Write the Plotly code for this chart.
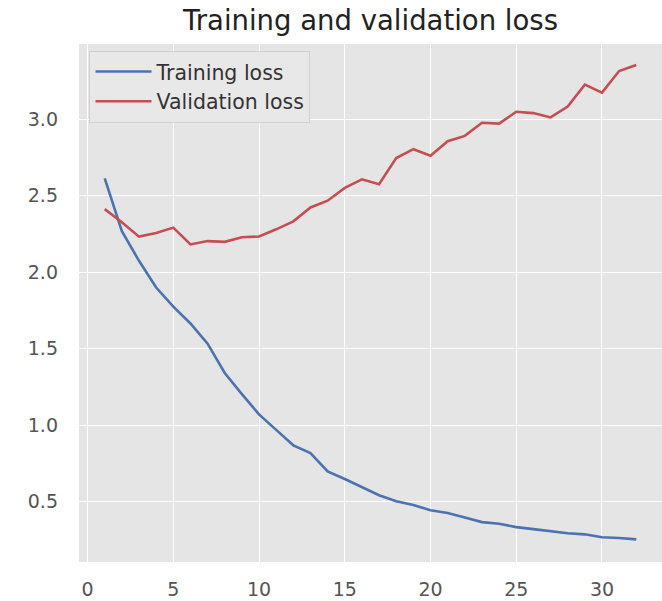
import plotly.graph_objects as go

epochs = list(range(1, 33))
training_loss = [2.614, 2.269, 2.075, 1.90, 1.775, 1.665, 1.533, 1.341, 1.203, 1.07,
                 0.969, 0.868, 0.817, 0.698, 0.648, 0.597, 0.542, 0.502, 0.478, 0.443,
                 0.425, 0.396, 0.366, 0.355, 0.333, 0.320, 0.306, 0.293, 0.286, 0.267,
                 0.262, 0.253]
validation_loss = [2.413, 2.327, 2.233, 2.257, 2.292, 2.182, 2.204, 2.199, 2.229, 2.234,
                   2.281, 2.333, 2.424, 2.468, 2.552, 2.608, 2.576, 2.747, 2.805, 2.762,
                   2.857, 2.892, 2.978, 2.972, 3.050, 3.041, 3.013, 3.084, 3.227, 3.175,
                   3.316, 3.355]
x_ticks = [0, 5, 10, 15, 20, 25, 30]
y_ticks = [0.5, 1.0, 1.5, 2.0, 2.5, 3.0, 3.5]

FONT = "DejaVu Sans"

fig = go.Figure()
fig.add_trace(go.Scatter(x=epochs, y=training_loss, mode="lines", name="Training loss",
                         line=dict(color="#4C72B0", width=2.6), legendgroup="a"))
fig.add_trace(go.Scatter(x=epochs, y=validation_loss, mode="lines", name="Validation loss",
                         line=dict(color="#C44E52", width=2.6), legendgroup="b"))

fig.update_layout(
    width=662, height=601,
    margin=dict(l=79, r=0, t=44, b=39),
    paper_bgcolor="white",
    plot_bgcolor="#E5E5E5",
    font=dict(family=FONT, size=19, color="#555555"),
    title=dict(text="Training and validation loss", x=0.5, xref="paper",
               y=0.966, yref="container", yanchor="middle",
               font=dict(family=FONT, size=27.5, color="#222222")),
    showlegend=True,
    legend=dict(x=0.018, y=0.987, xanchor="left", yanchor="top",
                bgcolor="#E8E8E8", bordercolor="#D0D0D0", borderwidth=1,
                font=dict(family=FONT, size=20.5, color="#333333"),
                itemwidth=56,
                traceorder="grouped", tracegroupgap=0),
    xaxis=dict(range=[-0.5, 33.5], tickvals=x_ticks, showgrid=True, gridcolor="white",
               gridwidth=1.4, zeroline=False, showline=False, ticks="",
               ticklabelstandoff=14, tickfont=dict(size=19, color="#555555")),
    yaxis=dict(range=[0.105, 3.493], tickvals=y_ticks, tickformat=".1f", showgrid=True,
               gridcolor="white", gridwidth=1.4, zeroline=False, showline=False, ticks="",
               ticklabelstandoff=20, tickfont=dict(size=19, color="#555555")),
)

fig.write_html("out.html", config={"displayModeBar": False},
               post_script="document.body.style.margin='0';document.body.style.padding='0';")
